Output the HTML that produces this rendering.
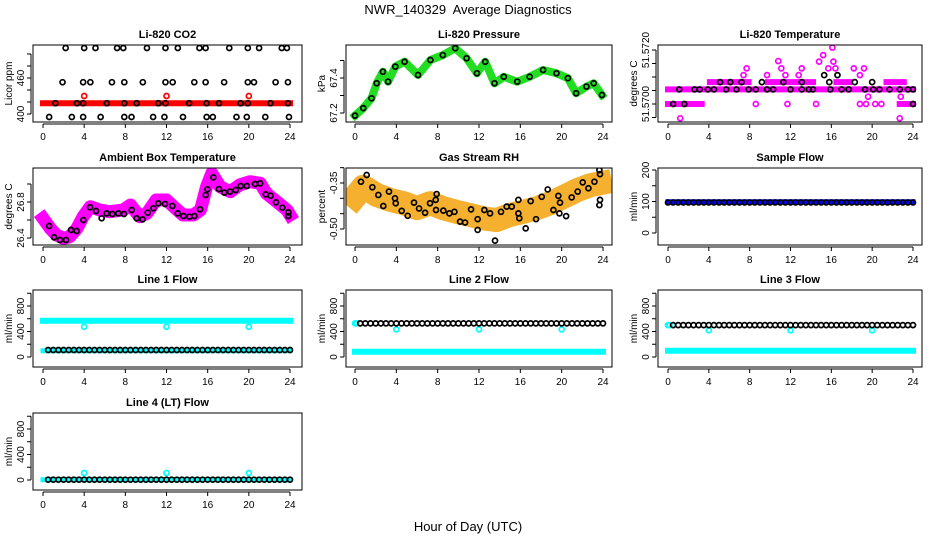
<!DOCTYPE html>
<html><head><meta charset="utf-8"><style>
html,body{margin:0;padding:0;background:#fff}
svg{display:block;font-family:"Liberation Sans",sans-serif}
</style></head><body>
<svg id="chart" width="936" height="540" viewBox="0 0 936 540" xmlns="http://www.w3.org/2000/svg">
<text x="468" y="14" text-anchor="middle" font-size="13" style="white-space:pre">NWR_140329&#160; Average Diagnostics</text>
<text x="468" y="531" text-anchor="middle" font-size="13">Hour of Day (UTC)</text>
</svg>
<script>
// ---------- shared ----------
const xTicks = [0,4,8,12,16,20,24];
const halfHours = [0,0.5,1,1.5,2,2.5,3,3.5,4,4.5,5,5.5,6,6.5,7,7.5,8,8.5,9,9.5,10,10.5,11,11.5,12,12.5,13,13.5,14,14.5,15,15.5,16,16.5,17,17.5,18,18.5,19,19.5,20,20.5,21,21.5,22,22.5,23,23.5,24];
const outlierHours = [4,12,20];

// ---------- CO2 ----------
const co2BandHours = [0,24];
const co2BandVals = [418,418];
const co2RedOutVals = [430,430,430];
const co2TopHours = [2.2,4.0,5.1,7.2,7.8,10.1,11.9,13.1,15.2,15.8,18.1,19.9,21.0,23.2,23.7];
const co2TopVals = [510,510,510,510,510,510,510,510,510,510,510,510,510,510,510];
const co2MidHours = [1.9,3.9,4.6,6.7,7.9,9.7,11.9,12.6,14.7,15.8,17.6,19.9,20.5,22.6,23.8];
const co2MidVals = [453,453,453,453,453,453,453,453,453,453,453,453,453,453,453];
const co2LowHours = [1.2,3.3,3.9,6.2,7.9,9.1,11.2,11.9,14.2,15.9,17.1,19.2,19.9,22.1,23.8];
const co2LowVals = [418,418,418,418,418,418,418,418,418,418,418,418,418,418,418];
const co2BotHours = [0.6,2.8,3.9,5.6,7.9,8.6,10.7,11.8,13.6,15.9,16.5,18.8,19.8,21.6,23.9];
const co2BotVals = [395,395,395,395,395,395,395,395,395,395,395,395,395,395,395];

// ---------- Pressure ----------
const presHours = [0,0.8,1.6,2.1,2.7,3.2,3.9,4.8,6.1,7.3,8.5,9.7,10.8,11.8,12.6,13.5,14.4,15.7,16.9,18.2,19.5,20.6,21.4,22.4,23.1,23.9];
const presVals = [67.185,67.228,67.284,67.370,67.436,67.379,67.465,67.493,67.417,67.503,67.531,67.570,67.513,67.427,67.493,67.370,67.407,67.379,67.407,67.446,67.427,67.399,67.313,67.351,67.370,67.303];

// ---------- Li-820 temperature ----------
const ltBandMainHours = [0,24];
const ltBandMainVals = [51.57054,51.57054];
const ltBandLowA = [0,3.3]; const ltBandLowB = [22.7,24];
const ltBandLowVals = [51.5700,51.5700];
const ltBandUpSegs = [[4.1,7.9],[9.8,14.2],[16.5,17.8],[21.4,23.1]];
const ltBandUpVal = 51.57081;
const ltMagHours = [1.2,7.4,7.7,8.6,9.7,10.8,11.1,11.5,11.7,12.8,13.1,14.5,14.8,15.2,15.7,16.1,16.2,16.4,18.2,18.8,18.8,19.2,19.4,19.6,20.3,20.9,22.7,22.8];
const ltMagVals = [51.56947,51.57107,51.57132,51.5700,51.57107,51.57159,51.57132,51.57107,51.5700,51.57107,51.57132,51.5700,51.57157,51.57181,51.57132,51.57209,51.57157,51.57132,51.57132,51.5700,51.57107,51.57132,51.5700,51.57027,51.5700,51.5700,51.56947,51.57027];
const ltBlkHours = [1.1,2.6,3.1,3.9,4.5,5.7,6.7,7.9,8.6,9.7,10.3,12.0,13.1,13.8,14.2,15.9,17.0,17.7,19.3,20.1,20.7,21.7,22.7,23.5,24.0,0.5,1.6,24.0,5.1,6.1,7.2,9.2,11.3,13.1,18.3,20.0,15.8,15.3,16.6];
const ltBlkVals = [51.57054,51.57054,51.57054,51.57054,51.57054,51.57054,51.57054,51.57054,51.57054,51.57054,51.57054,51.57054,51.57054,51.57054,51.57054,51.57054,51.57054,51.57054,51.57054,51.57054,51.57054,51.57054,51.57054,51.57054,51.57054,51.5700,51.5700,51.5700,51.57081,51.57081,51.57081,51.57081,51.57081,51.57081,51.57081,51.57081,51.57081,51.57107,51.57107];

// ---------- Ambient box temperature ----------
const ambHours = [0,0.7,1.3,2.0,2.6,3.3,3.9,4.6,5.5,6.5,7.8,8.5,9.4,10.1,11.0,12.0,12.7,13.6,14.6,15.3,15.9,16.4,17.2,18.2,19.1,20.1,21.1,21.7,22.7,23.7,24.0];
const ambVals = [26.619,26.508,26.433,26.397,26.414,26.508,26.637,26.748,26.711,26.692,26.711,26.767,26.637,26.674,26.822,26.822,26.748,26.656,26.656,26.711,26.970,27.119,26.970,26.914,26.989,27.026,27.008,26.897,26.804,26.711,26.656];
const ambBlkHours = [0.6,1.07,1.65,2.24,2.72,3.27,3.92,4.57,5.15,5.7,6.19,6.74,7.32,7.87,8.62,9.1,9.68,10.17,10.72,11.2,11.86,12.57,13.09,13.64,14.22,14.71,15.26,15.8,15.97,16.55,17.1,17.62,18.17,18.72,19.21,19.8,20.6,21.1,21.64,22.12,22.64,23.26,23.84,23.84];
const ambBlkVals = [26.533,26.408,26.378,26.378,26.489,26.478,26.6,26.741,26.7,26.619,26.674,26.667,26.674,26.667,26.711,26.619,26.607,26.681,26.730,26.785,26.778,26.756,26.674,26.644,26.637,26.644,26.719,26.878,26.941,27.074,26.944,26.904,26.915,26.933,26.978,26.978,27.0,27.007,26.885,26.870,26.796,26.737,26.644,26.685];

// ---------- Gas stream RH ----------
const rhHours = [0,0.8,2.1,3.4,4.7,6.0,7.3,8.5,9.8,11.1,12.4,13.7,15.0,16.3,17.6,18.9,20.2,21.5,22.8,23.7];
const rhVals = [-0.395,-0.362,-0.389,-0.405,-0.416,-0.432,-0.416,-0.432,-0.444,-0.454,-0.465,-0.471,-0.454,-0.444,-0.432,-0.416,-0.395,-0.373,-0.357,-0.351];
const rhBlkHours = [0.58,1.13,1.68,2.26,2.74,3.29,3.87,3.94,4.52,5.1,5.71,6.2,6.78,7.26,7.81,7.9,7.84,8.55,9.13,9.62,10.17,10.65,11.23,11.87,11.87,12.52,13.07,14.13,14.68,15.17,15.81,15.81,15.9,16.52,17.0,17.52,18.07,18.65,19.2,19.68,19.78,19.84,20.43,20.97,21.55,22.04,22.59,23.17,23.65,23.71,23.71,23.65,13.55];
const rhBlkVals = [-0.346,-0.324,-0.364,-0.389,-0.425,-0.378,-0.400,-0.416,-0.441,-0.457,-0.414,-0.433,-0.447,-0.416,-0.405,-0.386,-0.438,-0.440,-0.449,-0.444,-0.476,-0.479,-0.436,-0.468,-0.503,-0.438,-0.449,-0.444,-0.427,-0.427,-0.405,-0.449,-0.465,-0.498,-0.409,-0.468,-0.395,-0.371,-0.438,-0.392,-0.449,-0.414,-0.458,-0.397,-0.378,-0.348,-0.367,-0.346,-0.308,-0.321,-0.405,-0.422,-0.538];

// ---------- Flows ----------
const sampleBlueVals = [99,99];
const sampleBlackVal = 97;
const line1CyanVal = 570, line1CyanLow = 98, line1BlackVal = 110, line1OutVals = [475,475,475];
const line2BlackVal = 527, line2CyanVal = 83, line2OutVals = [433,433,433], line2StartVal = 527;
const line3BlackVal = 500, line3CyanVal = 98, line3OutVals = [420,420,420], line3StartVal = 500;
const line4BlackVal = 5, line4CyanVal = 5, line4OutVals = [110,110,110];

// ---------- drawing ----------
const NS = "http://www.w3.org/2000/svg";
const svg = document.getElementById('chart');
function mk(tag, attrs, parent){ const e=document.createElementNS(NS,tag); for(const k in attrs) e.setAttribute(k,attrs[k]); (parent||svg).appendChild(e); return e; }

const cols = [{fl:33,fr:302,x0:43,x24:290},{fl:346,fr:612,x0:355,x24:603},{fl:658,fr:922,x0:668,x24:913}];
const rows = [{ft:45,fb:122},{ft:168,fb:245},{ft:290,fb:367},{ft:413,fb:490}];
const defs = mk('defs',{});
let clipN = 0;

function panel(name, col, row, title, ylab, v1, y1, v2, y2, ticks, labels){
  const c=cols[col], r=rows[row];
  const g = mk('g',{});
  
  
  const xs = h => c.x0 + (c.x24-c.x0)*h/24;
  const ys = v => y1 + (v-v1)*(y2-y1)/(v2-v1);
  const cid = 'clip'+(clipN++);
  const cp = mk('clipPath',{id:cid},defs);
  mk('rect',{x:c.fl,y:r.ft,width:c.fr-c.fl,height:r.fb-r.ft},cp);
  const t = mk('text',{x:(c.fl+c.fr)/2,y:r.ft-7,'text-anchor':'middle','font-size':11,'font-weight':'bold'},g);
  t.textContent = title;
  
  
  const ax = mk('g',{stroke:'#000','stroke-width':1},g);
  
  
  const ay = r.fb+2;
  mk('line',{x1:xs(xTicks[0]),x2:xs(xTicks[xTicks.length-1]),y1:ay,y2:ay},ax);
  xTicks.forEach(tk=>{
    mk('line',{x1:xs(tk),x2:xs(tk),y1:ay,y2:ay+4},ax);
    const tl = mk('text',{x:xs(tk),y:r.fb+18,'text-anchor':'middle','font-size':10,stroke:'none'},g);
    tl.textContent = tk;
    
    
  });
  const yax = mk('g',{stroke:'#000','stroke-width':1},g);
  
  
  const lx = c.fl-2;
  mk('line',{x1:lx,x2:lx,y1:ys(ticks[0]),y2:ys(ticks[ticks.length-1])},yax);
  ticks.forEach((tk,i)=>{
    mk('line',{x1:lx,x2:lx-4,y1:ys(tk),y2:ys(tk)},yax);
    if(labels[i]){
      const yl = mk('text',{x:c.fl-9,y:ys(tk),'text-anchor':'middle','font-size':10,transform:`rotate(-90 ${c.fl-9} ${ys(tk)})`},g);
      yl.textContent = labels[i];
      
      
    }
  });
  const yt = mk('text',{x:c.fl-21,y:(r.ft+r.fb)/2,'text-anchor':'middle','font-size':10,transform:`rotate(-90 ${c.fl-21} ${(r.ft+r.fb)/2})`},g);
  yt.textContent = ylab;
  
  
  const data = mk('g',{'clip-path':`url(#${cid})`},g);
  
  
  const f = mk('rect',{x:c.fl,y:r.ft,width:c.fr-c.fl,height:r.fb-r.ft,fill:'none',stroke:'#000','stroke-width':1},g);
  
  
  return {xs, ys, g:data};
}
function pts(p, hours, vals, color, nm){
  hours.forEach((h,i)=>{
    const e = mk('circle',{cx:p.xs(h),cy:p.ys(vals[i]),r:2.5,fill:'none',stroke:color,'stroke-width':1.7},p.g);
    
    
  });
}
function flat(p, hours, val, color, nm){ pts(p, hours, hours.map(()=>val), color, nm); }
function band(p, hours, vals, color, w, nm){
  const d = hours.map((h,i)=>p.xs(h).toFixed(1)+','+p.ys(vals[i]).toFixed(1)).join(' ');
  const e = mk('polyline',{points:d,fill:'none',stroke:color,'stroke-width':w,'stroke-linejoin':'round','stroke-linecap':'square'},p.g);
  
  
}

let p = panel('co2-panel',0,0,'Li-820 CO2','Licor ppm',400,114,460,78,[400,420,440,460,480,500],['400','','','460','','']);
band(p,co2BandHours,co2BandVals,'#ff0000',6,'co2-band');
pts(p,outlierHours,co2RedOutVals,'#ff0000','co2-red-point');
pts(p,co2TopHours,co2TopVals,'#000','co2-point');
pts(p,co2MidHours,co2MidVals,'#000','co2-point');
pts(p,co2LowHours,co2LowVals,'#000','co2-point');
pts(p,co2BotHours,co2BotVals,'#000','co2-point');

p = panel('pressure-panel',1,0,'Li-820 Pressure','kPa',67.2,113,67.4,78,[67.2,67.3,67.4,67.5],['67.2','','67.4','']);
band(p,presHours,presVals,'#22dd22',8,'pressure-band');
pts(p,presHours,presVals,'#000','pressure-point');

p = panel('li-temp-panel',2,0,'Li-820 Temperature','degrees C',51.57,104,51.5705,90.5,[51.5695,51.57,51.5705,51.571,51.5715,51.572],['','51.5700','','','','51.5720']);
band(p,ltBandMainHours,ltBandMainVals,'#ff00ff',6,'li-temp-band');
band(p,ltBandLowA,ltBandLowVals,'#ff00ff',6,'li-temp-band');
band(p,ltBandLowB,ltBandLowVals,'#ff00ff',6,'li-temp-band');
ltBandUpSegs.forEach(s=>band(p,s,[ltBandUpVal,ltBandUpVal],'#ff00ff',6,'li-temp-band'));
pts(p,ltMagHours,ltMagVals,'#ff00ff','li-temp-point');
pts(p,ltBlkHours,ltBlkVals,'#000','li-temp-avg-point');

p = panel('ambient-panel',0,1,'Ambient Box Temperature','degrees C',26.4,238,26.8,202,[26.4,26.6,26.8,27.0],['26.4','','26.8','']);
band(p,ambHours,ambVals,'#ff00ff',13,'ambient-band');
pts(p,ambBlkHours,ambBlkVals,'#000','ambient-point');

p = panel('rh-panel',1,1,'Gas Stream RH','percent',-0.35,183,-0.50,229,[-0.5,-0.45,-0.4,-0.35,-0.3],['-0.50','','','-0.35','']);
band(p,rhHours,rhVals,'#f5b030',24,'rh-band');
pts(p,rhBlkHours,rhBlkVals,'#000','rh-point');

p = panel('sample-flow-panel',2,1,'Sample Flow','ml/min',0,233,200,170,[0,50,100,150,200],['0','','100','','200']);
band(p,[0,24],sampleBlueVals,'#0000ff',5,'sample-flow-band');
flat(p,halfHours,sampleBlackVal,'#000','sample-flow-point');

const flowTicks=[0,200,400,600,800,1000], flowLabels=['0','','400','','800',''];
p = panel('line1-panel',0,2,'Line 1 Flow','ml/min',0,357,800,306,flowTicks,flowLabels);
band(p,[0,24],[line1CyanVal,line1CyanVal],'#00ffff',6,'line1-band');
band(p,[0,24],[line1CyanLow,line1CyanLow],'#00ffff',5,'line1-band-low');
pts(p,outlierHours,line1OutVals,'#00ffff','line1-outlier');
flat(p,halfHours.slice(1),line1BlackVal,'#000','line1-point');

p = panel('line2-panel',1,2,'Line 2 Flow','ml/min',0,357,800,306,flowTicks,flowLabels);
band(p,[0,24],[line2CyanVal,line2CyanVal],'#00ffff',6,'line2-band');
pts(p,[0,0.15],[line2StartVal,line2StartVal],'#00ffff','line2-start');
pts(p,outlierHours,line2OutVals,'#00ffff','line2-outlier');
flat(p,halfHours.slice(1),line2BlackVal,'#000','line2-point');

p = panel('line3-panel',2,2,'Line 3 Flow','ml/min',0,357,800,306,flowTicks,flowLabels);
band(p,[0,24],[line3CyanVal,line3CyanVal],'#00ffff',6,'line3-band');
pts(p,[0,0.15],[line3StartVal,line3StartVal],'#00ffff','line3-start');
pts(p,outlierHours,line3OutVals,'#00ffff','line3-outlier');
flat(p,halfHours.slice(1),line3BlackVal,'#000','line3-point');

p = panel('line4-panel',0,3,'Line 4 (LT) Flow','ml/min',0,480,800,429,flowTicks,flowLabels);
band(p,[0,24],[line4CyanVal,line4CyanVal],'#00ffff',5,'line4-band');
pts(p,outlierHours,line4OutVals,'#00ffff','line4-outlier');
flat(p,halfHours.slice(1),line4BlackVal,'#000','line4-point');
</script>
</body></html>
